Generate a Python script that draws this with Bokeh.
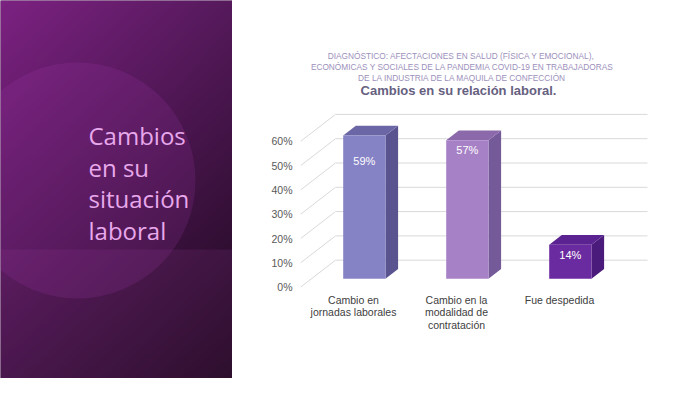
import numpy as np
from bokeh.plotting import figure
from bokeh.layouts import row
from bokeh.models import Range1d, FixedTicker, PrintfTickFormatter, Label, ColumnDataSource
from bokeh.core.properties import value
from bokeh.embed import file_html
from bokeh.resources import INLINE

# ---------------- data ----------------
categories = ["Cambio en\njornadas laborales",
              "Cambio en la\nmodalidad de\ncontratación",
              "Fue despedida"]
values = [59, 57, 14]
value_labels = ["59%", "57%", "14%"]
y_ticks = [0, 10, 20, 30, 40, 50, 60]
title_lines = ["DIAGNÓSTICO:  AFECTACIONES EN SALUD (FÍSICA Y EMOCIONAL),",
               "ECONÓMICAS Y SOCIALES DE LA PANDEMIA COVID-19 EN TRABAJADORAS",
               "DE LA INDUSTRIA DE LA MAQUILA DE CONFECCIÓN"]
chart_title = "Cambios en su relación laboral."
slide_title = ["Cambios", "en su", "situación", "laboral"]

# ---------------- styles ----------------
front_colors = ["#8682c6", "#a781c6", "#6b2ba0"]
top_colors = ["#6b66a6", "#8b69aa", "#5a2391"]
side_colors = ["#59548f", "#755a9a", "#4a1b7a"]
label_drop_px = [26, 10, 10]
FONT = value("Liberation Sans")

W, H = 684, 378
LW = 232
RW = W - LW

# ---------------- left decorative panel ----------------
left = figure(width=LW, height=H, x_range=Range1d(0, LW), y_range=Range1d(0, H),
              output_backend="svg", toolbar_location=None, min_border=0)
left.axis.visible = False
left.grid.visible = False
left.outline_line_color = None
left.background_fill_color = "#4a1550"
left.border_fill_color = "#4a1550"

ny, nx = 96, 58
u = np.linspace(0, 1, nx)[None, :, None]
v = np.linspace(0, 1, ny)[:, None, None]   # 0 = bottom, 1 = top
tl = np.array([124, 34, 130.0]); tr = np.array([86, 26, 92.0])
bl = np.array([60, 17, 64.0]); br = np.array([28, 8, 28.0])
topc = tl * (1 - u) + tr * u
botc = bl * (1 - u) + br * u
col = botc * (1 - v) + topc * v
img = np.empty((ny, nx), dtype=np.uint32)
view = img.view(dtype=np.uint8).reshape((ny, nx, 4))
view[..., :3] = np.clip(col, 0, 255).astype(np.uint8)
view[..., 3] = 255
left.image_rgba(image=[img], x=0, y=0, dw=LW, dh=H)

# lower band and circle overlays
left.quad(left=0, right=LW, bottom=0, top=H - 249, fill_color="#b446b4",
          fill_alpha=0.12, line_color=None)
left.circle(x=[77], y=[H - 180], radius=118, fill_color="#b040b8",
            fill_alpha=0.16, line_color=None)

src_t = ColumnDataSource(dict(x=[88] * len(slide_title),
                              y=[H - (135 + i * 31.5) for i in range(len(slide_title))],
                              t=slide_title))
left.text(x="x", y="y", text="t", source=src_t, text_font=value("Open Sans"),
          text_font_size="24px", text_color="#e8a8ec", text_baseline="alphabetic",
          text_align="left")

# ---------------- right chart ----------------
FX0 = 300                    # px of frame left (front-plane axis)
BACK_X = 647                 # px where back-wall gridlines end
C0, PXX = 353, 103.0         # px of first category, px per category
Y0, PXY = 286.7, 2.43        # px of 0 %, px per 1 %

def px2x(a):
    return (a - C0) / PXX

def px2y(a):
    return (Y0 - a) / PXY

x_start = px2x(FX0)
x_end = px2x(W)
y_start = px2y(H)
y_end = px2y(0)

p = figure(width=RW, height=H, x_range=Range1d(x_start, x_end),
           y_range=Range1d(y_start, y_end), output_backend="svg",
           toolbar_location=None,
           min_border_left=FX0 - LW, min_border_right=0,
           min_border_top=0, min_border_bottom=0)
p.outline_line_color = None
p.grid.visible = False
p.xaxis.visible = False
p.background_fill_color = "white"
p.border_fill_color = "white"

OX = 35 / PXX   # full depth offset in x units
OY = 27 / PXY   # full depth offset in y units
d0, d1 = 0.31, 0.67
HW = 21.15 / PXX

# 3D gridlines (side wall diagonals + back wall)
gx, gy = [], []
for t in y_ticks:
    gx.append([x_start, x_start + OX, px2x(BACK_X)])
    gy.append([t, t + OY, t + OY])
p.multi_line(xs=gx, ys=gy, line_color="#d9d9d9", line_width=1)

# bars
fx, fy, tx, ty, sx, sy = [], [], [], [], [], []
dd = d1 - d0
for i, val in enumerate(values):
    xl = i - HW + d0 * OX
    xr = i + HW + d0 * OX
    yb = d0 * OY
    yt = val + d0 * OY
    fx.append([xl, xr, xr, xl]); fy.append([yb, yb, yt, yt])
    tx.append([xl, xr, xr + dd * OX, xl + dd * OX]); ty.append([yt, yt, yt + dd * OY, yt + dd * OY])
    sx.append([xr, xr + dd * OX, xr + dd * OX, xr]); sy.append([yb, yb + dd * OY, yt + dd * OY, yt])
p.patches(xs=sx, ys=sy, fill_color=side_colors, line_color=None)
p.patches(xs=tx, ys=ty, fill_color=top_colors, line_color=None)
p.patches(xs=fx, ys=fy, fill_color=front_colors, line_color=None)

src_v = ColumnDataSource(dict(
    x=[i + d0 * OX for i in range(len(values))],
    y=[val + d0 * OY - label_drop_px[i] / PXY for i, val in enumerate(values)],
    t=value_labels))
p.text(x="x", y="y", text="t", source=src_v, text_font=FONT, text_font_size="11px",
       text_color="white", text_align="center", text_baseline="middle")

# category labels (front plane, below the floor)
cx, cy, ct = [], [], []
for i, c in enumerate(categories):
    for k, line in enumerate(c.split("\n")):
        cx.append(i)
        cy.append(px2y(299 + 12.6 * k))
        ct.append(line)
p.text(x=cx, y=cy, text=ct, text_font=FONT, text_font_size="10.5px",
       text_color="#404040", text_align="center", text_baseline="middle")

# y axis
p.yaxis.ticker = FixedTicker(ticks=y_ticks)
p.yaxis.formatter = PrintfTickFormatter(format="%d%%")
p.yaxis.axis_line_color = None
p.yaxis.major_tick_line_color = None
p.yaxis.minor_tick_line_color = None
p.yaxis.major_tick_out = 0
p.yaxis.major_label_standoff = 8
p.yaxis.major_label_text_font = "Liberation Sans"
p.yaxis.major_label_text_font_size = "10.5px"
p.yaxis.major_label_text_color = "#595959"

# titles
for k, line in enumerate(title_lines):
    p.add_layout(Label(x=px2x(462), y=px2y(55 + 11 * k), text=line,
                       text_font="Liberation Sans", text_font_size="8.3px",
                       text_color="#9c90bb", text_align="center",
                       text_baseline="middle"))
p.add_layout(Label(x=px2x(458), y=px2y(90), text=chart_title,
                   text_font="Liberation Sans", text_font_size="13px",
                   text_font_style="bold", text_color="#66607f",
                   text_align="center", text_baseline="middle"))

layout = row(left, p)
open("out.html", "w").write(file_html(layout, INLINE))
